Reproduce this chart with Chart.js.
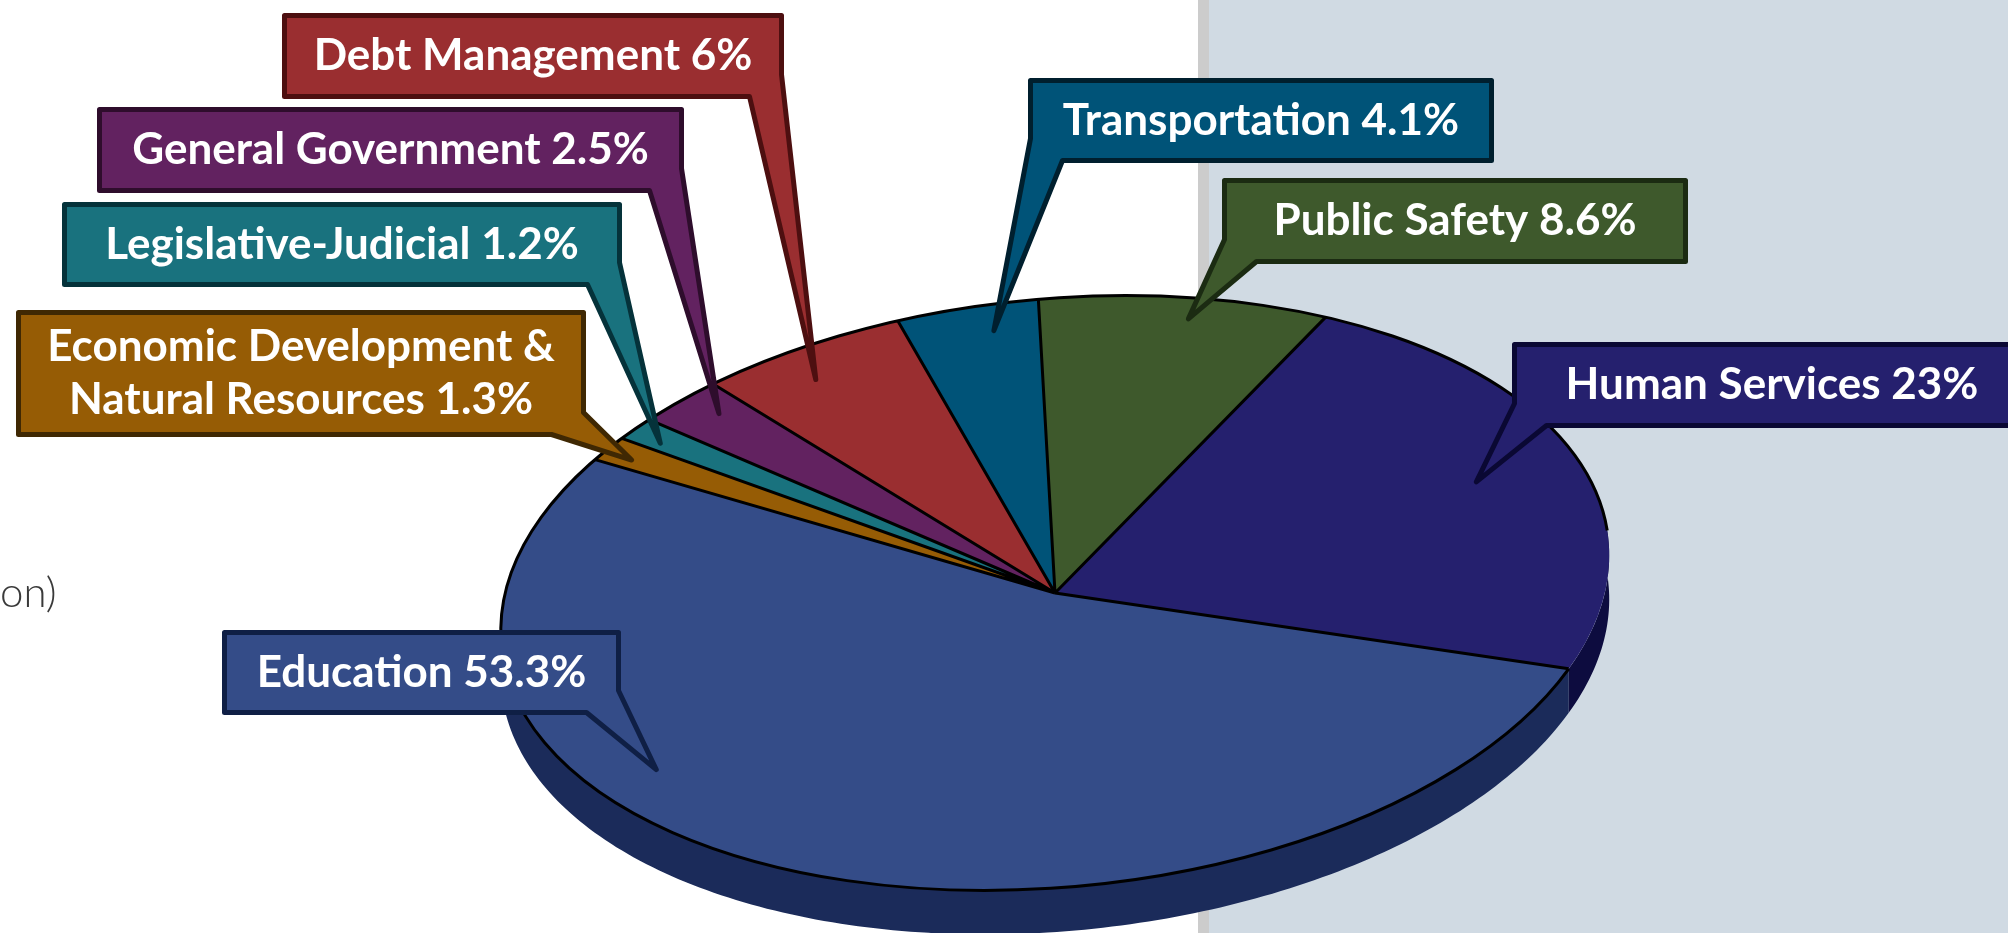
<!DOCTYPE html>
<html><head><meta charset="utf-8">
<script src="https://cdn.jsdelivr.net/npm/chart.js@4.4.1/dist/chart.umd.min.js"></script>
<style>html,body{margin:0;padding:0;overflow:hidden;background:#fff}canvas{display:block}</style>
</head><body>
<canvas id="c" width="2008" height="933"></canvas>
<script>
// ---------- data ----------
const categories = ["Education", "Economic Development & Natural Resources", "Legislative-Judicial",
  "General Government", "Debt Management", "Transportation", "Public Safety", "Human Services"];
const shares = [53.3, 1.3, 1.2, 2.5, 6, 4.1, 8.6, 23];
const noteText = "on)";

// ---------- styles ----------
const topColors  = ["#344c88", "#965c05", "#19727e", "#622260", "#9a2e30", "#005378", "#3e592c", "#25206e"];
const sideColors = ["#1b2b5a", "#5a3703", "#0c454c", "#3b143a", "#5c1b1d", "#003248", "#253519", "#0d0c3f"];
const boxBorders = ["#0f1f45", "#3f2803", "#05323a", "#2e0d2c", "#4d0f10", "#001f2e", "#1b2b12", "#0a0833"];
// callout layout: outer box [x,y,w,h], tail corner, position of tip inside the slice
const callouts = [
  {box: [222, 630, 399, 85],  corner: "BR", along: 0.64, rf: 0.88},
  {box: [16, 310, 570, 127],  corner: "BR", along: 0.37, rf: 0.94, wrapAfter: "&"},
  {box: [62, 202, 560, 85],   corner: "BR", along: 0.33, rf: 0.93},
  {box: [97, 107, 587, 86],   corner: "BR", along: 0.62, rf: 0.915},
  {box: [282, 13, 502, 86],   corner: "BR", along: 0.42, rf: 0.89},
  {box: [1028, 78, 466, 85],  corner: "BL", along: 0.645, rf: 0.91},
  {box: [1222, 178, 466, 86], corner: "BL", along: 0.54, rf: 0.93},
  {box: [1512, 342, 520, 86], corner: "BL", along: 0.49, rf: 0.81}
];
const TILT = -5.4 * Math.PI / 180;   // visual tilt of the ellipse
const SQUASH = 0.529;                 // vertical foreshortening
const DEPTH = 44;                     // pie thickness
const RIM_GAP_START = -2 * Math.PI / 180;

function applyT(ctx, cx, cy) {
  ctx.translate(cx, cy); ctx.rotate(TILT); ctx.scale(1, SQUASH); ctx.translate(-cx, -cy);
}
function proj(cx, cy, a, r) {
  const px = r * Math.cos(a), py = r * Math.sin(a) * SQUASH;
  const c = Math.cos(TILT), s = Math.sin(TILT);
  return [cx + px * c - py * s, cy + px * s + py * c];
}

const pie3d = {
  id: "pie3d",
  beforeDraw(chart) {
    const ctx = chart.ctx;
    ctx.save();
    ctx.fillStyle = "#ffffff"; ctx.fillRect(0, 0, 2008, 933);
    ctx.fillStyle = "#cccccc"; ctx.fillRect(1198, 0, 11, 933);
    ctx.fillStyle = "#d0dae3"; ctx.fillRect(1209, 0, 799, 933);
    ctx.fillStyle = "#3a3a3a"; ctx.font = "300 42px Lato"; ctx.textBaseline = "alphabetic";
    ctx.fillText(noteText, 0, 607);
    ctx.restore();
  },
  beforeDatasetsDraw(chart) {
    const ctx = chart.ctx;
    const arcs = chart.getDatasetMeta(0).data;
    // side walls
    arcs.forEach((el, i) => {
      const {x, y, startAngle, endAngle, outerRadius} = el;
      const n = Math.max(4, Math.ceil((endAngle - startAngle) * 60));
      ctx.beginPath();
      for (let k = 0; k <= n; k++) {
        const a = startAngle + (endAngle - startAngle) * k / n;
        const p = proj(x, y, a, outerRadius);
        k === 0 ? ctx.moveTo(p[0], p[1]) : ctx.lineTo(p[0], p[1]);
      }
      for (let k = n; k >= 0; k--) {
        const a = startAngle + (endAngle - startAngle) * k / n;
        const p = proj(x, y, a, outerRadius);
        ctx.lineTo(p[0], p[1] + DEPTH);
      }
      ctx.closePath();
      ctx.fillStyle = sideColors[i];
      ctx.fill();
    });
    const el0 = arcs[0];
    ctx.save();
    applyT(ctx, el0.x, el0.y);
  },
  afterDatasetsDraw(chart) {
    const ctx = chart.ctx;
    ctx.restore();
    const arcs = chart.getDatasetMeta(0).data;
    const {x: cx, y: cy, outerRadius: R} = arcs[0];
    // outlines (uniform width in screen space)
    ctx.save();
    applyT(ctx, cx, cy);
    ctx.beginPath();
    arcs.forEach(el => {
      ctx.moveTo(cx, cy);
      ctx.lineTo(cx + R * Math.cos(el.startAngle), cy + R * Math.sin(el.startAngle));
    });
    const a0 = arcs[0].startAngle;
    ctx.moveTo(cx + R * Math.cos(a0), cy + R * Math.sin(a0));
    ctx.arc(cx, cy, R, a0, RIM_GAP_START + 2 * Math.PI);
    ctx.restore();
    ctx.save();
    ctx.strokeStyle = "#000"; ctx.lineWidth = 3; ctx.lineJoin = "round";
    ctx.stroke();
    ctx.restore();

    // callouts
    arcs.forEach((el, i) => {
      const c = callouts[i];
      const lw = 5, h2 = lw / 2;
      const bx = c.box[0] + h2, by = c.box[1] + h2, bw = c.box[2] - lw, bh = c.box[3] - lw;
      const a = el.startAngle + (el.endAngle - el.startAngle) * c.along;
      const tip = proj(el.x, el.y, a, el.outerRadius * c.rf);
      const side = 22, bot = 32;
      ctx.save();
      ctx.beginPath();
      if (c.corner === "BR") {
        ctx.moveTo(bx, by); ctx.lineTo(bx + bw, by); ctx.lineTo(bx + bw, by + bh - side);
        ctx.lineTo(tip[0], tip[1]); ctx.lineTo(bx + bw - bot, by + bh); ctx.lineTo(bx, by + bh);
      } else {
        ctx.moveTo(bx, by); ctx.lineTo(bx + bw, by); ctx.lineTo(bx + bw, by + bh);
        ctx.lineTo(bx + bot, by + bh); ctx.lineTo(tip[0], tip[1]); ctx.lineTo(bx, by + bh - side);
      }
      ctx.closePath();
      ctx.fillStyle = topColors[i];
      ctx.fill();
      ctx.lineWidth = lw; ctx.lineJoin = "round"; ctx.strokeStyle = boxBorders[i];
      ctx.stroke();
      // text
      const label = categories[i] + " " + shares[i] + "%";
      let lines = [label];
      if (c.wrapAfter) {
        const k = label.indexOf(c.wrapAfter) + c.wrapAfter.length;
        lines = [label.slice(0, k).trim(), label.slice(k).trim()];
      }
      ctx.fillStyle = "#ffffff";
      ctx.font = "700 44px Lato";
      ctx.textAlign = "center"; ctx.textBaseline = "alphabetic";
      const mx = c.box[0] + c.box[2] / 2, my = c.box[1] + c.box[3] / 2;
      const lh = 53;
      const first = my + 14 - lh * (lines.length - 1) / 2;
      lines.forEach((t, j) => ctx.fillText(t, mx, first + j * lh));
      ctx.restore();
    });
  }
};

new Chart(document.getElementById("c").getContext("2d"), {
  type: "pie",
  data: {
    labels: categories,
    datasets: [{data: shares, backgroundColor: topColors, borderWidth: 0, hoverOffset: 0}]
  },
  options: {
    responsive: false,
    devicePixelRatio: 1,
    animation: false,
    events: [],
    rotation: 114.9,
    radius: 556,
    layout: {padding: {left: 102, right: 0, top: 253, bottom: 0}},
    plugins: {legend: {display: false}, tooltip: {enabled: false}}
  },
  plugins: [pie3d]
});
</script>
</body></html>
